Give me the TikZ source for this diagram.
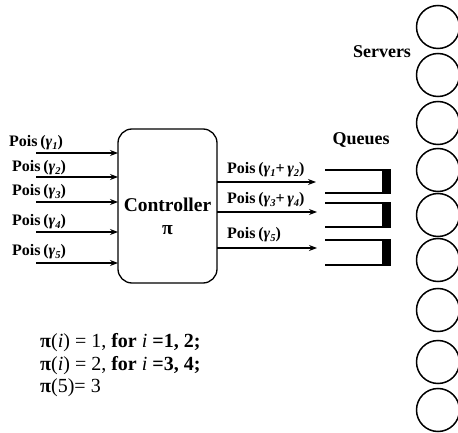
\documentclass[tikz,border=0pt]{standalone}
\usepackage{fontspec}
\setmainfont{Liberation Serif}
\usetikzlibrary{arrows.meta}
\definecolor{qblue}{RGB}{70,100,140}
% gamma with an italic subscript
\newcommand\gsub[1]{{\bfseries\itshape γ}\raisebox{-0.35ex}{\fontsize{10.5}{10.5}\selectfont\bfseries\itshape #1}}
\newcommand\poisof[1]{\textbf{Pois\,(}#1\textbf{)}}
\tikzset{
  server/.style={draw=black,line width=1.5pt,circle,minimum size=43pt,inner sep=0pt},
  ctrl/.style={draw=black,line width=1.3pt,rounded corners=14pt,minimum width=99pt,minimum height=154pt,inner sep=0pt},
  flow/.style={line width=1.3pt,-{Stealth[length=8pt,width=6pt]}},
  lab/.style={anchor=west,inner sep=0pt,font=\fontsize{16}{18}\selectfont},
  title/.style={inner sep=0pt,font=\fontsize{18}{20}\selectfont\bfseries},
  rule/.style={anchor=west,inner sep=0pt,font=\fontsize{20}{23}\selectfont},
  qline/.style={line width=2.6pt,qblue},
  qcore/.style={line width=1.1pt,black}
}
\begin{document}
\begin{tikzpicture}[x=1pt,y=-1pt]
\useasboundingbox (0,0) rectangle (458,433);
\fill[white] (0,0) rectangle (458,433);

% servers
\foreach \i/\y in {1/27,2/75,3/123,4/170,5/215,6/260,7/310,8/362,9/410}
  \node[server] (s\i) at (438,\y) {};
\node[title] (servers) at (382,52) {Servers};

% controller
\node[ctrl] (ctrl) at (167.5,206) {};
\node[title,font=\fontsize{19.5}{22}\selectfont\bfseries] (ctrlname) at (167.5,205) {Controller};
\node[title,font=\fontsize{19.5}{22}\selectfont\bfseries] (ctrlpi) at (167.5,230) {π};

% incoming streams
\foreach \i/\y/\ly/\lx in {1/153/143/9,2/177/168/12,3/202/192/12,4/232/222/12,5/263/252/12}{
  \coordinate (in\i) at (36,\y);
  \coordinate (inend\i) at (118,\y);
  \node[lab] (inlab\i) at (\lx,\ly) {\poisof{\gsub{\i}}};
  \draw[flow] (in\i) -- (inend\i);
}

% outgoing streams
\coordinate (o1) at (217,182); \coordinate (oe1) at (316,182);
\coordinate (o2) at (217,212); \coordinate (oe2) at (317,212);
\coordinate (o3) at (217,248); \coordinate (oe3) at (317,248);
\draw[flow] (o1) -- (oe1);
\draw[flow] (o2) -- (oe2);
\draw[flow] (o3) -- (oe3);
\node[lab] (olab1) at (227,170) {\poisof{\gsub{1}\textbf{+}\,\gsub{2}}};
\node[lab] (olab2) at (227,200) {\poisof{\gsub{3}\textbf{+}\,\gsub{4}}};
\node[lab] (olab3) at (227,235) {\poisof{\gsub{5}}};

% queues
\node[title] (queues) at (361,140) {Queues};
\foreach \q/\t/\b in {1/170/193,2/203/227,3/240/265}{
  \coordinate (qt\q) at (325,\t);
  \coordinate (qb\q) at (325,\b);
  \draw[qline] (qt\q) -- (391,\t);
  \draw[qline] (qb\q) -- (391,\b);
  \draw[qcore] (qt\q) -- (391,\t);
  \draw[qcore] (qb\q) -- (391,\b);
  \fill[black] (382,\t) rectangle (391,\b);
}

% assignment rule
\node[rule] (r1) at (40,343) {\textbf{π}(\textit{i}) = 1, \textbf{for} \textit{i} \textbf{=1, 2;}};
\node[rule] (r2) at (40,366) {\textbf{π}(\textit{i}) = 2, \textbf{for} \textit{i} \textbf{=3, 4;}};
\node[rule] (r3) at (40,388) {\textbf{π}(5)= 3};
\end{tikzpicture}
\end{document}
